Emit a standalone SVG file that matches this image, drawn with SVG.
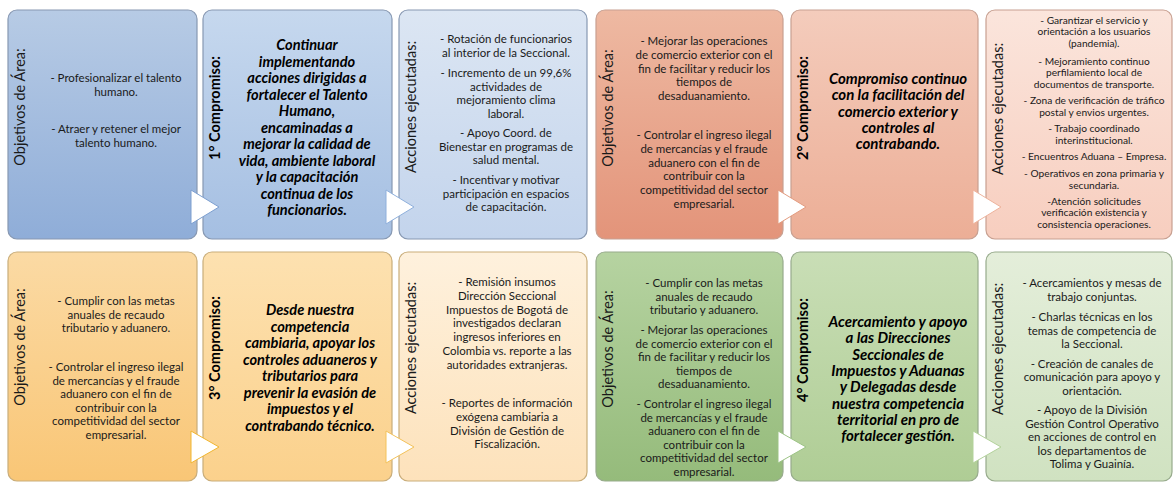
<svg xmlns="http://www.w3.org/2000/svg" width="1173" height="482" viewBox="0 0 1173 482">
<defs>
<linearGradient id="gB1" x1="0" y1="0" x2="0" y2="1"><stop offset="0" stop-color="#b7cbe5"/><stop offset="1" stop-color="#8fadd8"/></linearGradient>
<linearGradient id="gB2" x1="0" y1="0" x2="0" y2="1"><stop offset="0" stop-color="#c6d8ee"/><stop offset="1" stop-color="#a5bfe2"/></linearGradient>
<linearGradient id="gB3" x1="0" y1="0" x2="0" y2="1"><stop offset="0" stop-color="#dce6f3"/><stop offset="1" stop-color="#c3d4ec"/></linearGradient>
<linearGradient id="gO1" x1="0" y1="0" x2="0" y2="1"><stop offset="0" stop-color="#eeb9a2"/><stop offset="1" stop-color="#e3947a"/></linearGradient>
<linearGradient id="gO2" x1="0" y1="0" x2="0" y2="1"><stop offset="0" stop-color="#f4ccbc"/><stop offset="1" stop-color="#ecae96"/></linearGradient>
<linearGradient id="gO3" x1="0" y1="0" x2="0" y2="1"><stop offset="0" stop-color="#fbe5dc"/><stop offset="1" stop-color="#f7cebf"/></linearGradient>
<linearGradient id="gY1" x1="0" y1="0" x2="0" y2="1"><stop offset="0" stop-color="#fbdaa4"/><stop offset="1" stop-color="#f9c676"/></linearGradient>
<linearGradient id="gY2" x1="0" y1="0" x2="0" y2="1"><stop offset="0" stop-color="#fde1b0"/><stop offset="1" stop-color="#fbd18c"/></linearGradient>
<linearGradient id="gY3" x1="0" y1="0" x2="0" y2="1"><stop offset="0" stop-color="#fef1dd"/><stop offset="1" stop-color="#fde2bb"/></linearGradient>
<linearGradient id="gG1" x1="0" y1="0" x2="0" y2="1"><stop offset="0" stop-color="#b6d3a1"/><stop offset="1" stop-color="#95bb7b"/></linearGradient>
<linearGradient id="gG2" x1="0" y1="0" x2="0" y2="1"><stop offset="0" stop-color="#c9deb6"/><stop offset="1" stop-color="#afcd95"/></linearGradient>
<linearGradient id="gG3" x1="0" y1="0" x2="0" y2="1"><stop offset="0" stop-color="#e4eeda"/><stop offset="1" stop-color="#d0e2c1"/></linearGradient>
</defs>
<style>
.box{stroke-width:1.2}
.sb{stroke:#8798b2}
.so{stroke:#c8a091}
.sy{stroke:#c9ad7a}
.sg{stroke:#97ab8c}
.lbl{font-family:Lato,"Liberation Sans",sans-serif;font-size:14.5px;fill:#1a1a1a;text-anchor:middle}
.lblb{font-family:Lato,"Liberation Sans",sans-serif;font-size:14.5px;font-weight:bold;fill:#000;text-anchor:middle}
.t{font-family:Lato,"Liberation Sans",sans-serif;font-size:11.5px;fill:#1a1a1a;text-anchor:middle}
.ts{font-family:Lato,"Liberation Sans",sans-serif;font-size:10.2px;fill:#1a1a1a;text-anchor:middle}
.c{font-family:Lato,"Liberation Sans",sans-serif;font-size:14.6px;font-weight:bold;font-style:italic;fill:#000;text-anchor:middle}
.arr{fill:#ffffff;stroke-width:1}
</style>
<rect width="1173" height="482" fill="#ffffff"/>

<g id="top-objetivos-1">
<rect class="box sb" x="8" y="10" width="189" height="229" rx="9" fill="url(#gB1)"/>
<text class="lbl" transform="translate(20,107) rotate(-90)" y="5">Objetivos de Área:</text>
<text class="t" x="116"><tspan x="116" y="82">- Profesionalizar el talento</tspan><tspan x="116" y="96">humano.</tspan><tspan x="116" y="133">- Atraer y retener el mejor</tspan><tspan x="116" y="147">talento humano.</tspan></text>
</g>

<g id="top-compromiso-1">
<rect class="box sb" x="203" y="10" width="189" height="229" rx="9" fill="url(#gB2)"/>
<text class="lblb" transform="translate(215,108) rotate(-90)" y="5">1° Compromiso:</text>
<text class="c"><tspan x="307" y="50">Continuar</tspan><tspan x="307" y="66.5">implementando</tspan><tspan x="307" y="83">acciones dirigidas a</tspan><tspan x="307" y="99.5">fortalecer el Talento</tspan><tspan x="307" y="116">Humano,</tspan><tspan x="307" y="132.5">encaminadas a</tspan><tspan x="307" y="149">mejorar la calidad de</tspan><tspan x="307" y="165.5">vida, ambiente laboral</tspan><tspan x="307" y="182">y la capacitación</tspan><tspan x="307" y="198.5">continua de los</tspan><tspan x="307" y="215">funcionarios.</tspan></text>
</g>

<g id="top-acciones-1">
<rect class="box sb" x="399" y="10" width="188" height="229" rx="9" fill="url(#gB3)"/>
<text class="lbl" transform="translate(411,107) rotate(-90)" y="5">Acciones ejecutadas:</text>
<text class="t"><tspan x="506" y="43">- Rotación de funcionarios</tspan><tspan x="506" y="57">al interior de la Seccional.</tspan><tspan x="506" y="77">- Incremento de un 99,6%</tspan><tspan x="506" y="90.5">actividades de</tspan><tspan x="506" y="104">mejoramiento clima</tspan><tspan x="506" y="117.5">laboral.</tspan><tspan x="506" y="137">- Apoyo Coord. de</tspan><tspan x="506" y="150.5">Bienestar en programas de</tspan><tspan x="506" y="164">salud mental.</tspan><tspan x="506" y="184">- Incentivar y motivar</tspan><tspan x="506" y="197.5">participación en espacios</tspan><tspan x="506" y="211">de capacitación.</tspan></text>
</g>

<g id="top-objetivos-2">
<rect class="box so" x="596" y="10" width="187" height="229" rx="9" fill="url(#gO1)"/>
<text class="lbl" transform="translate(608,108) rotate(-90)" y="5">Objetivos de Área:</text>
<text class="t"><tspan x="704" y="45">- Mejorar las operaciones</tspan><tspan x="704" y="58.8">de comercio exterior con el</tspan><tspan x="704" y="72.6">fin de facilitar y reducir los</tspan><tspan x="704" y="86.4">tiempos de</tspan><tspan x="704" y="100.2">desaduanamiento.</tspan><tspan x="704" y="139">- Controlar el ingreso ilegal</tspan><tspan x="704" y="152.8">de mercancías y el fraude</tspan><tspan x="704" y="166.6">aduanero con el fin de</tspan><tspan x="704" y="180.4">contribuir con la</tspan><tspan x="704" y="194.2">competitividad del sector</tspan><tspan x="704" y="208">empresarial.</tspan></text>
</g>

<g id="top-compromiso-2">
<rect class="box so" x="791" y="10" width="187" height="229" rx="9" fill="url(#gO2)"/>
<text class="lblb" transform="translate(803,108) rotate(-90)" y="5">2° Compromiso:</text>
<text class="c" style="font-size:15px"><tspan x="898" y="84">Compromiso continuo</tspan><tspan x="898" y="100.3">con la facilitación del</tspan><tspan x="898" y="116.6">comercio exterior y</tspan><tspan x="898" y="132.9">controles al</tspan><tspan x="898" y="149.2">contrabando.</tspan></text>
</g>

<g id="top-acciones-2">
<rect class="box so" x="986" y="10" width="186" height="229" rx="9" fill="url(#gO3)"/>
<text class="lbl" transform="translate(998,109) rotate(-90)" y="5">Acciones ejecutadas:</text>
<text class="ts"><tspan x="1094" y="23.5">- Garantizar el servicio y</tspan><tspan x="1094" y="35">orientación a los usuarios</tspan><tspan x="1094" y="46.5">(pandemia).</tspan><tspan x="1094" y="64.5">- Mejoramiento continuo</tspan><tspan x="1094" y="76">perfilamiento local de</tspan><tspan x="1094" y="87.5">documentos de transporte.</tspan><tspan x="1094" y="104">- Zona de verificación de tráfico</tspan><tspan x="1094" y="115.5">postal y envios urgentes.</tspan><tspan x="1094" y="132">- Trabajo coordinado</tspan><tspan x="1094" y="143.5">interinstitucional.</tspan><tspan x="1094" y="160">- Encuentros Aduana – Empresa.</tspan><tspan x="1094" y="177">- Operativos en zona primaria y</tspan><tspan x="1094" y="188.5">secundaria.</tspan><tspan x="1094" y="204.5">-Atención solicitudes</tspan><tspan x="1094" y="216">verificación existencia y</tspan><tspan x="1094" y="227.5">consistencia operaciones.</tspan></text>
</g>

<g id="bottom-objetivos-3">
<rect class="box sy" x="8" y="252" width="189" height="229" rx="9" fill="url(#gY1)"/>
<text class="lbl" transform="translate(20,347) rotate(-90)" y="5">Objetivos de Área:</text>
<text class="t"><tspan x="116" y="305">- Cumplir con las metas</tspan><tspan x="116" y="318.7">anuales de recaudo</tspan><tspan x="116" y="332.4">tributario y aduanero.</tspan><tspan x="116" y="371">- Controlar el ingreso ilegal</tspan><tspan x="116" y="384.5">de mercancías y el fraude</tspan><tspan x="116" y="398">aduanero con el fin de</tspan><tspan x="116" y="411.5">contribuir con la</tspan><tspan x="116" y="425">competitividad del sector</tspan><tspan x="116" y="438.5">empresarial.</tspan></text>
</g>

<g id="bottom-compromiso-3">
<rect class="box sy" x="203" y="252" width="189" height="229" rx="9" fill="url(#gY2)"/>
<text class="lblb" transform="translate(215,348) rotate(-90)" y="5">3° Compromiso:</text>
<text class="c"><tspan x="310" y="315">Desde nuestra</tspan><tspan x="310" y="331.5">competencia</tspan><tspan x="310" y="348">cambiaria, apoyar los</tspan><tspan x="310" y="364.5">controles aduaneros y</tspan><tspan x="310" y="381">tributarios para</tspan><tspan x="310" y="397.5">prevenir la evasión de</tspan><tspan x="310" y="414">impuestos y el</tspan><tspan x="310" y="430.5">contrabando técnico.</tspan></text>
</g>

<g id="bottom-acciones-3">
<rect class="box sy" x="399" y="252" width="188" height="229" rx="9" fill="url(#gY3)"/>
<text class="lbl" transform="translate(411,348) rotate(-90)" y="5">Acciones ejecutadas:</text>
<text class="t"><tspan x="507" y="286">- Remisión insumos</tspan><tspan x="507" y="299.8">Dirección Seccional</tspan><tspan x="507" y="313.6">Impuestos de Bogotá de</tspan><tspan x="507" y="327.4">investigados declaran</tspan><tspan x="507" y="341.2">ingresos inferiores en</tspan><tspan x="507" y="355">Colombia vs. reporte a las</tspan><tspan x="507" y="368.8">autoridades extranjeras.</tspan><tspan x="507" y="407">- Reportes de información</tspan><tspan x="507" y="420.8">exógena cambiaria a</tspan><tspan x="507" y="434.6">División de Gestión de</tspan><tspan x="507" y="448.4">Fiscalización.</tspan></text>
</g>

<g id="bottom-objetivos-4">
<rect class="box sg" x="596" y="252" width="187" height="229" rx="9" fill="url(#gG1)"/>
<text class="lbl" transform="translate(608,349) rotate(-90)" y="5">Objetivos de Área:</text>
<text class="t"><tspan x="704" y="287">- Cumplir con las metas</tspan><tspan x="704" y="300.6">anuales de recaudo</tspan><tspan x="704" y="314.2">tributario y aduanero.</tspan><tspan x="704" y="334">- Mejorar las operaciones</tspan><tspan x="704" y="347.6">de comercio exterior con el</tspan><tspan x="704" y="361.2">fin de facilitar y reducir los</tspan><tspan x="704" y="374.8">tiempos de</tspan><tspan x="704" y="388.4">desaduanamiento.</tspan><tspan x="704" y="408">- Controlar el ingreso ilegal</tspan><tspan x="704" y="421.6">de mercancías y el fraude</tspan><tspan x="704" y="435.2">aduanero con el fin de</tspan><tspan x="704" y="448.8">contribuir con la</tspan><tspan x="704" y="462.4">competitividad del sector</tspan><tspan x="704" y="476">empresarial.</tspan></text>
</g>

<g id="bottom-compromiso-4">
<rect class="box sg" x="791" y="252" width="187" height="229" rx="9" fill="url(#gG2)"/>
<text class="lblb" transform="translate(803,350) rotate(-90)" y="5">4° Compromiso:</text>
<text class="c" style="font-size:15px"><tspan x="898" y="327">Acercamiento y apoyo</tspan><tspan x="898" y="343.3">a las Direcciones</tspan><tspan x="898" y="359.6">Seccionales de</tspan><tspan x="898" y="375.9">Impuestos y Aduanas</tspan><tspan x="898" y="392.2">y Delegadas desde</tspan><tspan x="898" y="408.5">nuestra competencia</tspan><tspan x="898" y="424.8">territorial en pro de</tspan><tspan x="898" y="441.1">fortalecer gestión.</tspan></text>
</g>

<g id="bottom-acciones-4">
<rect class="box sg" x="986" y="252" width="186" height="229" rx="9" fill="url(#gG3)"/>
<text class="lbl" transform="translate(998,349) rotate(-90)" y="5">Acciones ejecutadas:</text>
<text class="t"><tspan x="1092" y="287">- Acercamientos y mesas de</tspan><tspan x="1092" y="300.5">trabajo conjuntas.</tspan><tspan x="1092" y="321">- Charlas técnicas en los</tspan><tspan x="1092" y="334.5">temas de competencia de</tspan><tspan x="1092" y="348">la Seccional.</tspan><tspan x="1092" y="367.5">- Creación de canales de</tspan><tspan x="1092" y="381">comunicación para apoyo y</tspan><tspan x="1092" y="394.5">orientación.</tspan><tspan x="1092" y="414">- Apoyo de la División</tspan><tspan x="1092" y="427.5">Gestión Control Operativo</tspan><tspan x="1092" y="441">en acciones de control en</tspan><tspan x="1092" y="454.5">los departamentos de</tspan><tspan x="1092" y="468">Tolima y Guainía.</tspan></text>
</g>

<g id="connectors">
<polygon class="arr" stroke="#7d9fd0" points="191,190 219,207 191,224"/>
<polygon class="arr" stroke="#8fb0dc" points="386,190 414,207 386,224"/>
<polygon class="arr" stroke="#e39c80" points="778,190 806,207 778,224"/>
<polygon class="arr" stroke="#eeb39c" points="973,190 1001,207 973,224"/>
<polygon class="arr" stroke="#f1b630" points="191,431 219,447 191,463"/>
<polygon class="arr" stroke="#f3c25a" points="386,431 414,447 386,463"/>
<polygon class="arr" stroke="#9cc385" points="778,431 806,447 778,463"/>
<polygon class="arr" stroke="#b3d29b" points="973,431 1001,447 973,463"/>
</g>
</svg>
